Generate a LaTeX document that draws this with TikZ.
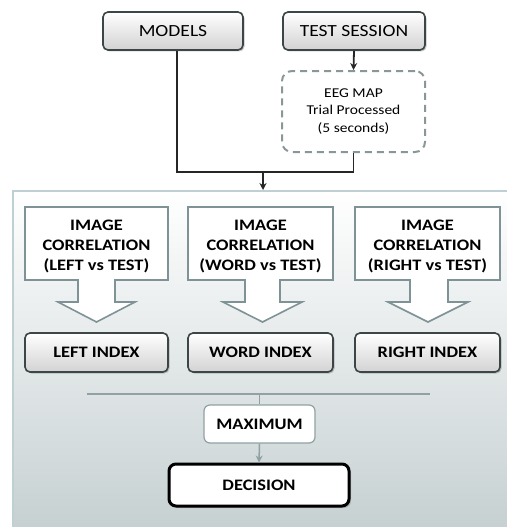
\documentclass[tikz,border=0pt]{standalone}
\usepackage{fontspec}
\setmainfont{Carlito}[FakeStretch=1.15]
\usetikzlibrary{arrows.meta,shadows}
\definecolor{dk}{HTML}{3C4646}
\definecolor{panelbd}{HTML}{BFD0D4}
\definecolor{panelbot}{HTML}{C6D0D1}
\definecolor{arrbd}{HTML}{7F9397}
\definecolor{dashc}{HTML}{8A9799}
\definecolor{thin}{HTML}{8FA1A4}
\begin{document}
\begin{tikzpicture}[x=1pt,y=-1pt,
  topbox/.style={draw=dk,line width=1.6pt,rounded corners=5pt,top color=white,bottom color=gray!35,
    drop shadow={shadow xshift=1.5pt,shadow yshift=-1.5pt,opacity=.45},font=\fontsize{17}{19}\selectfont,inner sep=0pt},
  idxbox/.style={topbox,font=\bfseries\fontsize{16}{18}\selectfont,minimum height=39pt},
  blockarr/.style={draw=arrbd,line width=1.6pt,fill=white,line join=miter},
  blocktxt/.style={align=center,font=\bfseries\fontsize{16}{20}\selectfont,inner sep=0pt},
  conn/.style={draw=black!85,line width=1.8pt},
  tip/.style={-{Stealth[length=7pt,width=7pt]}},
  gtip/.style={-{Stealth[length=7pt,width=7pt]}}
]
\useasboundingbox (0,0) rectangle (506,527);
% panel
\node (panel) [anchor=north west,minimum width=500pt,minimum height=340pt,inner sep=0pt,
  draw=panelbd,line width=1.6pt,top color=white,bottom color=panelbot] at (12,190) {};
% top boxes
\node (models) [topbox,minimum width=140pt,minimum height=38pt] at (173,31) {MODELS};
\node (test) [topbox,minimum width=142pt,minimum height=38pt] at (354,31) {TEST SESSION};
\node (eeg) [draw=dashc,line width=2pt,dash pattern=on 7pt off 5pt,rounded corners=10pt,
  minimum width=143pt,minimum height=81pt,align=center,inner sep=0pt,
  font=\fontsize{13.5}{17.5}\selectfont] at (353.5,111.5) {EEG MAP\\Trial Processed\\(5 seconds)};
\coordinate (j) at (263,172);
\draw[conn,tip] (test.south) -- (eeg.north);
\draw[conn] ([xshift=4pt]models.south) |- (j);
\draw[conn] (eeg.south) |- (j);
\draw[conn,tip] (j) -- (j |- panel.north);
% block arrows
\draw[blockarr] (25,207) -- (168,207) -- (168,280) -- (115,280) -- (115,302) -- (135,302) -- (96.5,322)
  -- (58,302) -- (78,302) -- (78,280) -- (25,280) -- cycle;
\draw[blockarr] (188,207) -- (333,207) -- (333,280) -- (280,280) -- (280,302) -- (302,302) -- (262.5,322)
  -- (223,302) -- (245,302) -- (245,280) -- (188,280) -- cycle;
\draw[blockarr] (355,207) -- (500,207) -- (500,280) -- (448,280) -- (448,302) -- (468,302) -- (428,322)
  -- (388,302) -- (410,302) -- (410,280) -- (355,280) -- cycle;
\node (c1) [blocktxt] at (96.5,246) {IMAGE\\CORRELATION\\(LEFT vs TEST)};
\node (c2) [blocktxt] at (260.5,246) {IMAGE\\CORRELATION\\(WORD vs TEST)};
\node (c3) [blocktxt] at (427.5,246) {IMAGE\\CORRELATION\\(RIGHT vs TEST)};
% index boxes
\node (li) [idxbox,minimum width=143pt] at (96.5,352.5) {LEFT INDEX};
\node (wi) [idxbox,minimum width=145pt] at (260.5,352.5) {WORD INDEX};
\node (ri) [idxbox,minimum width=145pt] at (427.5,352.5) {RIGHT INDEX};
% bottom
\coordinate (hl) at (87,394);
\coordinate (hr) at (430,394);
\node (max) [draw=thin,line width=1.2pt,rounded corners=6pt,fill=white,minimum width=111pt,minimum height=38pt,
  inner sep=0pt,font=\bfseries\fontsize{16}{18}\selectfont] at (259.5,424) {MAXIMUM};
\node (dec) [draw=black,line width=3pt,rounded corners=7pt,fill=white,minimum width=180pt,minimum height=42pt,
  inner sep=0pt,font=\bfseries\fontsize{16}{18}\selectfont,
  drop shadow={shadow xshift=2pt,shadow yshift=-2pt,opacity=.4}] at (259,485) {DECISION};
\draw[draw=thin,line width=1.5pt] (hl) -- (hr);
\draw[draw=thin,line width=1.5pt] (max.north |- hl) -- (max.north);
\draw[draw=thin,line width=1.5pt,gtip] (max.south) -- (dec.north);
\end{tikzpicture}
\end{document}
